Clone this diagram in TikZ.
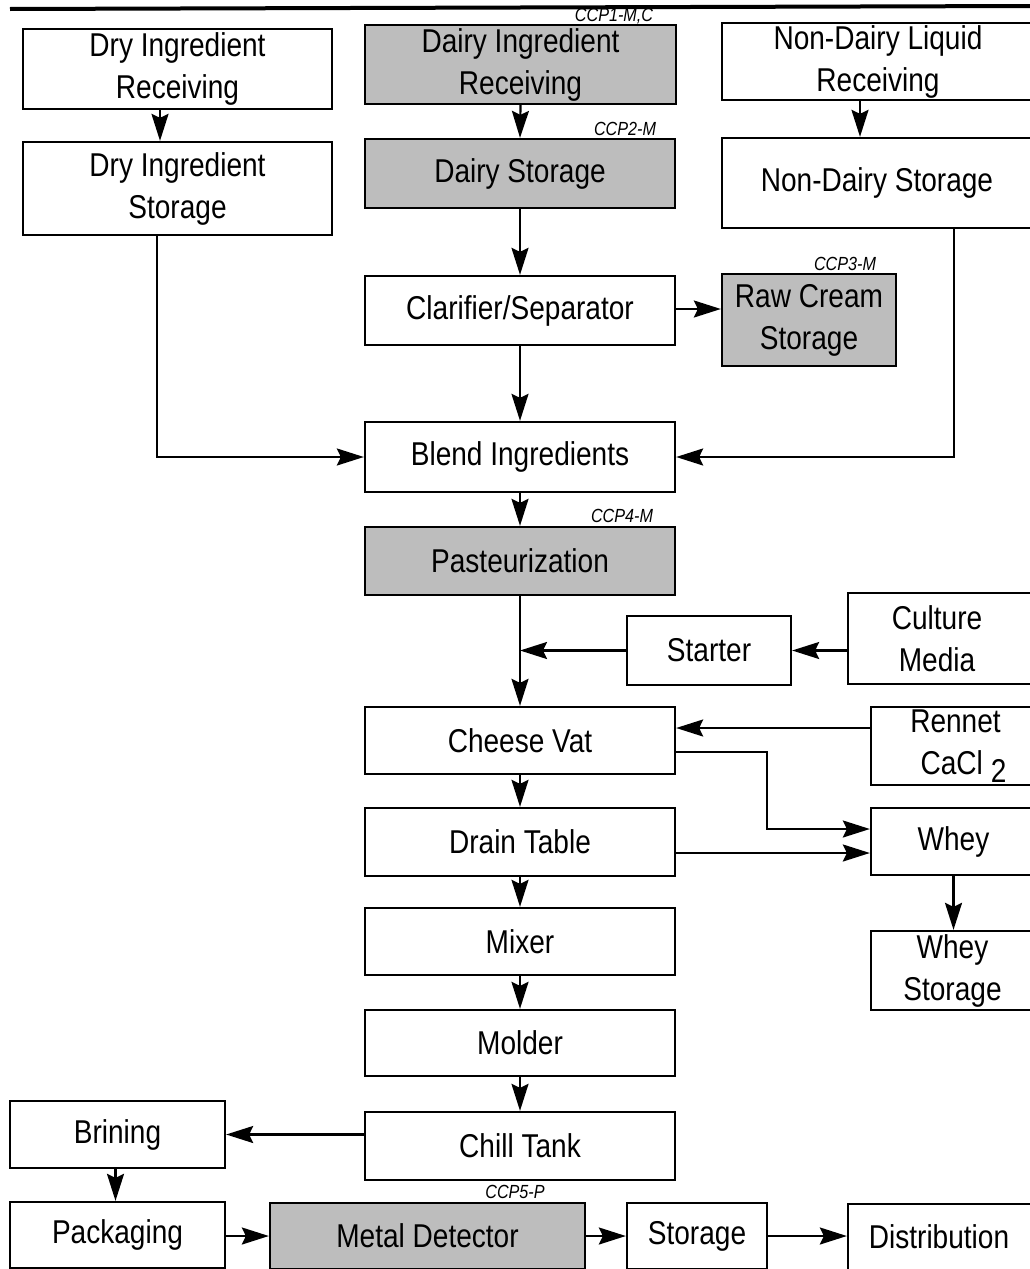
\documentclass[tikz,border=0pt]{standalone}
\usepackage{fontspec}
\setmainfont{Liberation Sans}[FakeStretch=0.85]
\usetikzlibrary{arrows.meta,calc}
\begin{document}
\begin{tikzpicture}[x=1pt,y=-1pt,
  box/.style={draw, line width=2.3pt, inner sep=0pt, align=center,
    font=\fontsize{33}{42}\selectfont},
  shadebox/.style={box, fill=black!26},
  ccp/.style={font=\fontsize{19}{21}\selectfont\itshape, inner sep=0pt},
  arr/.style={line width=2.2pt, -{Stealth[length=27pt,width=17pt,inset=4pt]}}]
\useasboundingbox (0,0) rectangle (1030,1269);
\draw[line width=4pt] (10,9) -- (1030,6);

% column 1
\node[box, minimum width=309pt, minimum height=80pt] (dryrec) at (177.5,69) {Dry Ingredient\\Receiving};
\node[box, minimum width=309pt, minimum height=93pt] (drystor) at (177.5,188.5) {Dry Ingredient\\Storage};

% centre column
\node[shadebox, minimum width=311pt, minimum height=79pt] (dairyrec) at (520.5,64.5) {Dairy Ingredient\\Receiving};
\node[shadebox, minimum width=310pt, minimum height=69pt] (dairystor) at (520,173.5) {Dairy Storage};
\node[box, minimum width=310pt, minimum height=69pt] (clar) at (520,310.5) {Clarifier/Separator};
\node[box, minimum width=310pt, minimum height=70pt] (blend) at (520,457) {Blend Ingredients};
\node[shadebox, minimum width=310pt, minimum height=68pt] (past) at (520,561) {Pasteurization};
\node[box, minimum width=310pt, minimum height=67pt] (cheese) at (520,740.5) {Cheese Vat};
\node[box, minimum width=310pt, minimum height=68pt] (drain) at (520,842) {Drain Table};
\node[box, minimum width=310pt, minimum height=67pt] (mixer) at (520,941.5) {Mixer};
\node[box, minimum width=310pt, minimum height=66pt] (molder) at (520,1043) {Molder};
\node[box, minimum width=310pt, minimum height=68pt] (chill) at (520,1146) {Chill Tank};

% right column
\node[box, minimum width=318pt, minimum height=77pt] (ndrec) at (881,61.5) {Non-Dairy Liquid\makebox[6pt]{}\\Receiving\makebox[6pt]{}};
\node[box, minimum width=318pt, minimum height=90pt] (ndstor) at (881,183) {Non-Dairy Storage\makebox[8pt]{}};
\node[shadebox, minimum width=174pt, minimum height=92pt] (raw) at (809,320) {Raw Cream\\Storage};
\node[box, minimum width=164pt, minimum height=69pt] (starter) at (709,650.5) {Starter};
\node[box, minimum width=192pt, minimum height=91pt] (culture) at (944,638.5) {Culture\makebox[14pt]{}\\Media\makebox[14pt]{}};
\node[box, minimum width=169pt, minimum height=78pt] (rennet) at (955.5,746) {Rennet\\\hspace*{16pt}CaCl\ \raisebox{-8pt}{2}};
\node[box, minimum width=169pt, minimum height=67pt] (whey) at (955.5,841.5) {Whey\makebox[4pt]{}};
\node[box, minimum width=169pt, minimum height=79pt] (wheystor) at (955.5,970.5) {Whey\makebox[6pt]{}\\Storage\makebox[6pt]{}};

% bottom row
\node[box, minimum width=215pt, minimum height=67pt] (brining) at (117.5,1134.5) {Brining};
\node[box, minimum width=215pt, minimum height=66pt] (pack) at (117.5,1235) {Packaging};
\node[shadebox, minimum width=315pt, minimum height=66pt] (metal) at (427.5,1236) {Metal Detector};
\node[box, minimum width=140pt, minimum height=66pt] (stor) at (697,1236) {Storage};
\node[box, minimum width=192pt, minimum height=66pt] (dist) at (944,1237) {Distribution\makebox[10pt]{}};

% CCP labels
\node[ccp] (ccp1) at (614,16) {CCP1-M,C};
\node[ccp] (ccp2) at (625,129) {CCP2-M};
\node[ccp] (ccp3) at (845,264) {CCP3-M};
\node[ccp] (ccp4) at (622,516) {CCP4-M};
\node[ccp] (ccp5) at (515,1192) {CCP5-P};

% connectors
\draw[arr] ([xshift=-17.5pt]dryrec.south) -- ([xshift=-17.5pt]drystor.north);
\draw[arr] (dairyrec.south) -- (dairystor.north);
\draw[arr] ([xshift=-21pt]ndrec.south) -- ([xshift=-21pt]ndstor.north);
\draw[arr] (dairystor.south) -- (clar.north);
\draw[arr] ([yshift=1.5pt]clar.east) -- ([yshift=1.5pt]clar.east -| raw.west);
\draw[arr] (clar.south) -- (blend.north);
\draw[arr] ([xshift=-20.5pt]drystor.south) |- (blend.west);
\draw[arr] ([xshift=73pt]ndstor.south) |- (blend.east);
\draw[arr] (blend.south) -- (past.north);
\draw[arr] (past.south) -- (cheese.north);
\draw[arr] (starter.west) -- (starter.west -| past.south);
\draw[arr] (culture.west |- starter.east) -- (starter.east);
\draw[arr] ([yshift=18pt]rennet.west) -- ([yshift=18pt]rennet.west -| cheese.east);
\draw[arr] ([yshift=-11.5pt]cheese.east) -- ++(91,0) |- ([yshift=12.5pt]whey.west);
\draw[arr] ([yshift=-11pt]drain.east) -- ([yshift=-11pt]drain.east -| whey.west);
\draw[arr] ([xshift=-2pt]whey.south) -- ([xshift=-2pt]wheystor.north);
\draw[arr] (cheese.south) -- (drain.north);
\draw[arr] (drain.south) -- (mixer.north);
\draw[arr] (mixer.south) -- (molder.north);
\draw[arr] (molder.south) -- (chill.north);
\draw[arr] (chill.west |- brining.east) -- (brining.east);
\draw[arr] ([xshift=-2pt]brining.south) -- ([xshift=-2pt]pack.north);
\draw[arr] (pack.east |- metal.west) -- (metal.west);
\draw[arr] (metal.east) -- (stor.west);
\draw[arr] (stor.east) -- (stor.east -| dist.west);
\end{tikzpicture}
\end{document}
